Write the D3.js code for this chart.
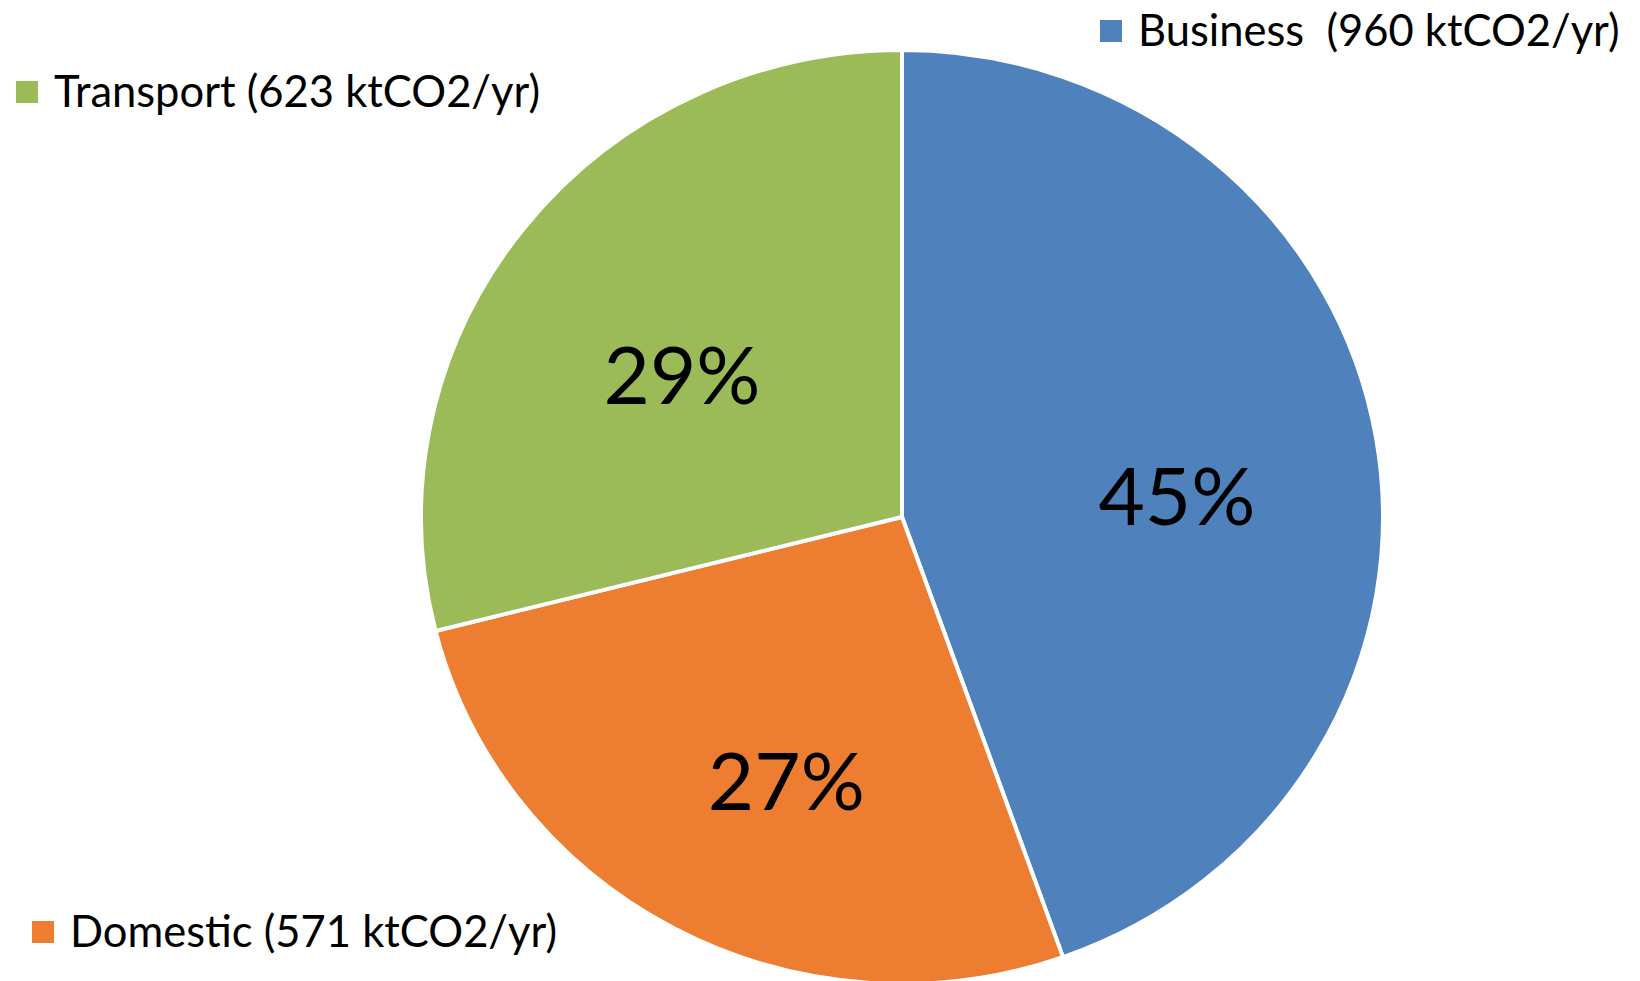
<!DOCTYPE html>
<html>
<head>
<meta charset="utf-8">
<script src="https://cdnjs.cloudflare.com/ajax/libs/d3/7.8.5/d3.min.js"></script>
<style>
  html, body { margin: 0; padding: 0; background: #fff; }
  text { font-family: Lato, "Open Sans", sans-serif; white-space: pre; }
</style>
</head>
<body>
<div class="PIE"></div>
<script>
// data
var sectors = ["Business", "Domestic", "Transport"];
var values = [960, 571, 623];
var legendLabels = ["Business  (960 ktCO2/yr)", "Domestic (571 ktCO2/yr)", "Transport (623 ktCO2/yr)"];
var colours = ["#4F81BD", "#ED7D31", "#9BBB59"];

var width = 1640, height = 981;
var cx = 902, cy = 517, rx = 481, ry = 467;

var canvas = d3.select(".PIE").append("svg")
    .attr("width", width)
    .attr("height", height);

var data = sectors.map(function(s, i) { return {name: s, value: values[i], label: legendLabels[i]}; });
var total = d3.sum(values);

var colour = d3.scaleOrdinal().domain(sectors).range(colours);

// pie starts at 12 o'clock, keeps the order, clockwise
var pie = d3.pie().sort(null).value(function(d) { return d.value; });
var arcs = pie(data);

var arc = d3.arc().innerRadius(0).outerRadius(rx);

// the picture is a little squashed vertically, so scale the group
var g = canvas.append("g")
    .attr("transform", "translate(" + cx + "," + cy + ") scale(1," + (ry / rx) + ")");

g.selectAll("path")
    .data(arcs)
    .enter()
    .append("path")
    .attr("d", arc)
    .attr("fill", function(d) { return colour(d.data.name); })
    .attr("stroke", "#fff")
    .attr("stroke-width", 4)
    .attr("stroke-linejoin", "round")
    .attr("vector-effect", "non-scaling-stroke");

// percentage labels
var labelArc = d3.arc().innerRadius(rx * 0.58).outerRadius(rx * 0.58);
canvas.selectAll(".pct")
    .data(arcs)
    .enter()
    .append("text")
    .attr("class", "pct")
    .attr("x", function(d) { return cx + labelArc.centroid(d)[0] + (d.data.name == "Domestic" ? 16 : 0); })
    .attr("y", function(d) { return cy + labelArc.centroid(d)[1] * ry / rx + 25; })
    .attr("dy", "0.36em")
    .attr("text-anchor", "middle")
    .attr("font-size", 80)
    .attr("fill", "#000")
    .text(function(d) { return Math.round(d.data.value / total * 100) + "%"; });

// legend entries sit in the corners
var legendPos = {
  "Business":  {x: 1100, y: 20},
  "Domestic":  {x: 32,   y: 921},
  "Transport": {x: 16,   y: 81}
};

var leg = canvas.selectAll(".leg")
    .data(data)
    .enter()
    .append("g")
    .attr("class", "leg")
    .attr("transform", function(d) { return "translate(" + legendPos[d.name].x + "," + legendPos[d.name].y + ")"; });

leg.append("rect")
    .attr("width", 22)
    .attr("height", 22)
    .attr("fill", function(d) { return colour(d.name); });

leg.append("text")
    .attr("x", 38)
    .attr("y", 26)
    .attr("font-size", 43.5)
    .attr("fill", "#000")
    .text(function(d) { return d.label; });
</script>
</body>
</html>
